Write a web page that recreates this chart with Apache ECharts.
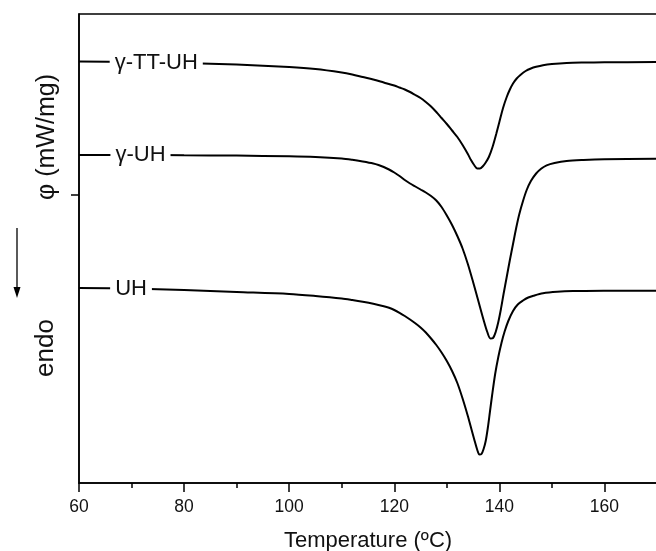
<!DOCTYPE html>
<html>
<head>
<meta charset="utf-8">
<script src="https://cdn.jsdelivr.net/npm/echarts@6/dist/echarts.min.js"></script>
<style>html,body{margin:0;padding:0;background:#fff}#c{width:656px;height:551px}</style>
</head>
<body>
<div id="c"></div>
<script>
// ---- data (φ in mW/mg, arbitrary vertical offsets) ----
const xTicks = [60, 80, 100, 120, 140, 160];
const seriesNames = ['γ-TT-UH', 'γ-UH', 'UH'];

const tempTTUH = [60, 70, 80, 90, 100, 105, 110, 112, 114, 116, 118, 120, 121, 122, 123, 124, 125, 126, 127, 128, 129, 130, 131, 132, 133, 134, 134.6, 135.2, 135.8, 136.3, 136.9, 137.4, 138, 138.7, 139.4, 140, 140.7, 141.4, 142, 142.6, 143.3, 144, 145, 146, 147, 148.3, 150, 152.8, 156, 160, 170];
const phiTTUH  = [4.215, 4.21, 4.20, 4.185, 4.16, 4.14, 4.105, 4.085, 4.06, 4.035, 4.005, 3.975, 3.955, 3.935, 3.91, 3.88, 3.85, 3.81, 3.765, 3.71, 3.65, 3.59, 3.525, 3.46, 3.38, 3.29, 3.23, 3.18, 3.145, 3.145, 3.17, 3.205, 3.26, 3.36, 3.49, 3.61, 3.75, 3.86, 3.935, 3.995, 4.045, 4.08, 4.12, 4.145, 4.162, 4.178, 4.19, 4.201, 4.205, 4.207, 4.21];

const tempGUH = [60, 70, 80, 90, 100, 105, 110, 112, 114, 116, 117, 118, 119, 120, 121, 122, 123, 124, 125, 126, 127, 128, 129, 130, 131, 132, 133, 134, 135, 136, 137, 137.7, 138.3, 138.8, 139.3, 139.8, 140.3, 140.8, 141.4, 142, 142.6, 143.2, 143.8, 144.5, 145.2, 146, 147, 148, 149, 150.5, 152.8, 156, 160, 170];
const phiGUH  = [3.28, 3.28, 3.277, 3.274, 3.267, 3.26, 3.245, 3.232, 3.215, 3.195, 3.18, 3.16, 3.135, 3.105, 3.07, 3.03, 2.995, 2.965, 2.935, 2.905, 2.87, 2.825, 2.76, 2.675, 2.58, 2.47, 2.345, 2.19, 2.01, 1.82, 1.63, 1.51, 1.445, 1.45, 1.51, 1.61, 1.74, 1.89, 2.06, 2.23, 2.39, 2.55, 2.69, 2.82, 2.93, 3.02, 3.095, 3.145, 3.177, 3.20, 3.22, 3.23, 3.237, 3.243];

const tempUH = [60, 70, 80, 90, 100, 105, 110, 112, 114, 116, 118, 119, 120, 121, 122, 123, 124, 125, 126, 127, 128, 129, 130, 131, 132, 133, 134, 134.7, 135.3, 135.8, 136.2, 136.6, 137, 137.4, 137.8, 138.2, 138.6, 139.2, 139.8, 140.4, 141, 141.7, 142.6, 143.5, 144.5, 145.5, 146.5, 148.3, 151, 154, 160, 170];
const phiUH  = [1.95, 1.945, 1.93, 1.91, 1.89, 1.87, 1.845, 1.83, 1.813, 1.793, 1.768, 1.752, 1.73, 1.702, 1.67, 1.635, 1.597, 1.555, 1.505, 1.445, 1.38, 1.305, 1.22, 1.12, 1.00, 0.845, 0.67, 0.535, 0.42, 0.33, 0.285, 0.29, 0.34, 0.42, 0.55, 0.71, 0.87, 1.09, 1.26, 1.40, 1.515, 1.62, 1.72, 1.785, 1.825, 1.855, 1.873, 1.897, 1.912, 1.919, 1.922, 1.923];

// label anchor positions (temperature, φ) for the in-line curve labels
const labelPos = [[74.7, 4.205], [71.7, 3.28], [69.9, 1.945]];
const yTickValues = [2.88];

const FONT = '"Liberation Sans", Arial, sans-serif';
const temps = [tempTTUH, tempGUH, tempUH];
const phis = [phiTTUH, phiGUH, phiUH];

const chart = echarts.init(document.getElementById('c'), null, {renderer: 'canvas'});

const series = seriesNames.map((name, i) => ({
  name: name,
  type: 'line',
  data: temps[i].map((t, k) => [t, phis[i][k]]),
  showSymbol: false,
  symbol: 'none',
  smooth: 0.3,
  lineStyle: {color: '#000', width: 2},
  silent: true,
  markPoint: {
    symbol: 'circle',
    symbolSize: 0,
    silent: true,
    data: [{coord: labelPos[i], value: name}],
    label: {
      show: true,
      position: 'inside',
      formatter: name,
      color: '#111',
      fontFamily: FONT,
      fontSize: 22,
      backgroundColor: '#fff',
      padding: [2, 5]
    }
  }
}));

chart.setOption({
  animation: false,
  backgroundColor: '#fff',
  grid: {
    left: 79, top: 14, width: 578, height: 469,
    outerBoundsMode: 'none',
    containLabel: false,
    show: true, borderColor: '#000', borderWidth: 1.5, backgroundColor: 'transparent'
  },
  xAxis: {
    type: 'value',
    min: 60, max: 170, interval: 20,
    name: 'Temperature (ºC)',
    nameLocation: 'middle',
    nameGap: 47,
    nameTextStyle: {fontFamily: FONT, fontSize: 22, color: '#111'},
    axisLine: {show: true, lineStyle: {color: '#000', width: 1.5}},
    axisTick: {show: true, inside: false, length: 9, lineStyle: {color: '#000', width: 1.5}},
    minorTick: {show: true, splitNumber: 2, length: 5, lineStyle: {color: '#000', width: 1.5}},
    axisLabel: {show: true, fontFamily: FONT, fontSize: 17.5, color: '#111', margin: 15, showMaxLabel: false},
    splitLine: {show: false}
  },
  yAxis: {
    type: 'value',
    min: 0, max: 4.69,
    axisLine: {show: true, lineStyle: {color: '#000', width: 1.5}},
    axisTick: {show: true, inside: false, length: 8, customValues: yTickValues, lineStyle: {color: '#000', width: 1.5}},
    axisLabel: {show: false},
    splitLine: {show: false}
  },
  graphic: [
    {
      type: 'text', x: 47, y: 137, rotation: Math.PI / 2,
      style: {text: 'φ (mW/mg)', font: '25px ' + FONT, fill: '#111', textAlign: 'center', textVerticalAlign: 'middle'}
    },
    {
      type: 'text', x: 46, y: 348, rotation: Math.PI / 2,
      style: {text: 'endo', font: '26px ' + FONT, fill: '#111', textAlign: 'center', textVerticalAlign: 'middle'}
    },
    {
      type: 'line', shape: {x1: 17, y1: 228, x2: 17, y2: 290},
      style: {stroke: '#000', lineWidth: 1.3}
    },
    {
      type: 'polygon', shape: {points: [[13.5, 287], [20.5, 287], [17, 298]]},
      style: {fill: '#000'}
    }
  ],
  series: series
});
</script>
</body>
</html>
